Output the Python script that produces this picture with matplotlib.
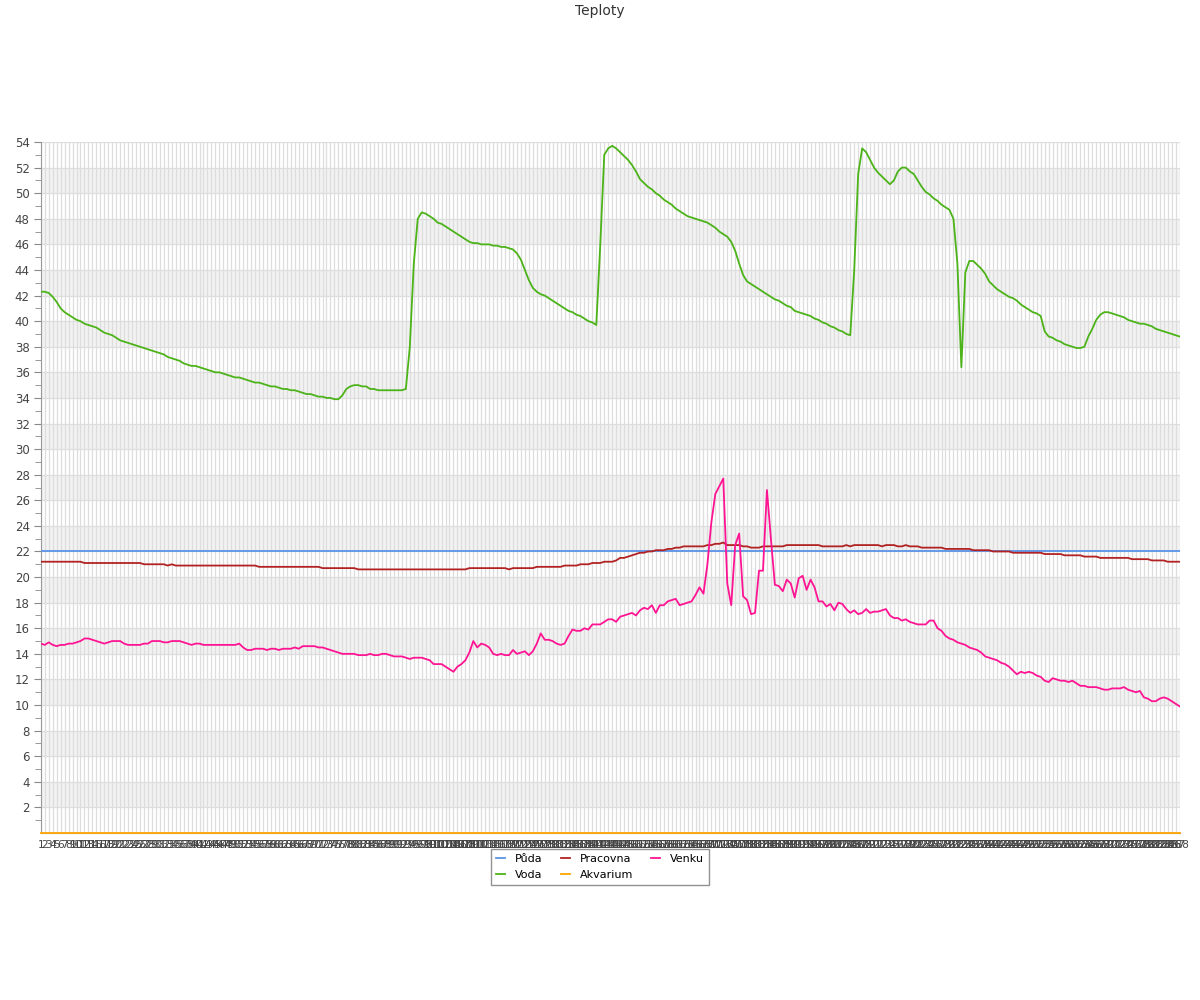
import matplotlib
matplotlib.use("Agg")
import matplotlib.pyplot as plt

# 5-minute samples, labelled 1..288
samples = [str(i) for i in range(1, 289)]

puda = [22.0] * 288
akvarium = [0.0] * 288

voda = [
    42.3, 42.3, 42.2, 41.9, 41.5, 41.0, 40.7, 40.5, 40.3, 40.1, 40.0, 39.8,
    39.7, 39.6, 39.5, 39.3, 39.1, 39.0, 38.9, 38.7, 38.5, 38.4, 38.3, 38.2,
    38.1, 38.0, 37.9, 37.8, 37.7, 37.6, 37.5, 37.4, 37.2, 37.1, 37.0, 36.9,
    36.7, 36.6, 36.5, 36.5, 36.4, 36.3, 36.2, 36.1, 36.0, 36.0, 35.9, 35.8,
    35.7, 35.6, 35.6, 35.5, 35.4, 35.3, 35.2, 35.2, 35.1, 35.0, 34.9, 34.9,
    34.8, 34.7, 34.7, 34.6, 34.6, 34.5, 34.4, 34.3, 34.3, 34.2, 34.1, 34.1,
    34.0, 34.0, 33.9, 33.9, 34.2, 34.7, 34.9, 35.0, 35.0, 34.9, 34.9, 34.7,
    34.7, 34.6, 34.6, 34.6, 34.6, 34.6, 34.6, 34.6, 34.7, 38.0, 44.5, 48.0,
    48.5, 48.4, 48.2, 48.0, 47.7, 47.6, 47.4, 47.2, 47.0, 46.8, 46.6, 46.4,
    46.2, 46.1, 46.1, 46.0, 46.0, 46.0, 45.9, 45.9, 45.8, 45.8, 45.7, 45.6,
    45.3, 44.8, 44.0, 43.2, 42.6, 42.3, 42.1, 42.0, 41.8, 41.6, 41.4, 41.2,
    41.0, 40.8, 40.7, 40.5, 40.4, 40.2, 40.0, 39.9, 39.7, 46.0, 53.0, 53.5,
    53.7, 53.5, 53.2, 52.9, 52.6, 52.2, 51.7, 51.1, 50.8, 50.5, 50.3, 50.0,
    49.8, 49.5, 49.3, 49.1, 48.8, 48.6, 48.4, 48.2, 48.1, 48.0, 47.9, 47.8,
    47.7, 47.5, 47.3, 47.0, 46.8, 46.6, 46.2, 45.5, 44.5, 43.6, 43.1, 42.9,
    42.7, 42.5, 42.3, 42.1, 41.9, 41.7, 41.6, 41.4, 41.2, 41.1, 40.8, 40.7,
    40.6, 40.5, 40.4, 40.2, 40.1, 39.9, 39.8, 39.6, 39.5, 39.3, 39.2, 39.0,
    38.9, 44.0, 51.5, 53.5, 53.2, 52.6, 52.0, 51.6, 51.3, 51.0, 50.7, 51.0,
    51.7, 52.0, 52.0, 51.7, 51.5, 51.0, 50.5, 50.1, 49.9, 49.6, 49.4, 49.1,
    48.9, 48.7, 48.0, 44.5, 36.4, 43.8, 44.7, 44.7, 44.4, 44.1, 43.7, 43.1,
    42.8, 42.5, 42.3, 42.1, 41.9, 41.8, 41.6, 41.3, 41.1, 40.9, 40.7, 40.6,
    40.4, 39.2, 38.8, 38.7, 38.5, 38.4, 38.2, 38.1, 38.0, 37.9, 37.9, 38.0,
    38.8, 39.4, 40.1, 40.5, 40.7, 40.7, 40.6, 40.5, 40.4, 40.3, 40.1, 40.0,
    39.9, 39.8, 39.8, 39.7, 39.6, 39.4, 39.3, 39.2, 39.1, 39.0, 38.9, 38.8,
]

pracovna = [
    21.2, 21.2, 21.2, 21.2, 21.2, 21.2, 21.2, 21.2, 21.2, 21.2, 21.2, 21.1,
    21.1, 21.1, 21.1, 21.1, 21.1, 21.1, 21.1, 21.1, 21.1, 21.1, 21.1, 21.1,
    21.1, 21.1, 21.0, 21.0, 21.0, 21.0, 21.0, 21.0, 20.9, 21.0, 20.9, 20.9,
    20.9, 20.9, 20.9, 20.9, 20.9, 20.9, 20.9, 20.9, 20.9, 20.9, 20.9, 20.9,
    20.9, 20.9, 20.9, 20.9, 20.9, 20.9, 20.9, 20.8, 20.8, 20.8, 20.8, 20.8,
    20.8, 20.8, 20.8, 20.8, 20.8, 20.8, 20.8, 20.8, 20.8, 20.8, 20.8, 20.7,
    20.7, 20.7, 20.7, 20.7, 20.7, 20.7, 20.7, 20.7, 20.6, 20.6, 20.6, 20.6,
    20.6, 20.6, 20.6, 20.6, 20.6, 20.6, 20.6, 20.6, 20.6, 20.6, 20.6, 20.6,
    20.6, 20.6, 20.6, 20.6, 20.6, 20.6, 20.6, 20.6, 20.6, 20.6, 20.6, 20.6,
    20.7, 20.7, 20.7, 20.7, 20.7, 20.7, 20.7, 20.7, 20.7, 20.7, 20.6, 20.7,
    20.7, 20.7, 20.7, 20.7, 20.7, 20.8, 20.8, 20.8, 20.8, 20.8, 20.8, 20.8,
    20.9, 20.9, 20.9, 20.9, 21.0, 21.0, 21.0, 21.1, 21.1, 21.1, 21.2, 21.2,
    21.2, 21.3, 21.5, 21.5, 21.6, 21.7, 21.8, 21.9, 21.9, 22.0, 22.0, 22.1,
    22.1, 22.1, 22.2, 22.2, 22.3, 22.3, 22.4, 22.4, 22.4, 22.4, 22.4, 22.4,
    22.5, 22.5, 22.6, 22.6, 22.7, 22.5, 22.5, 22.5, 22.5, 22.4, 22.4, 22.3,
    22.3, 22.3, 22.4, 22.4, 22.4, 22.4, 22.4, 22.4, 22.5, 22.5, 22.5, 22.5,
    22.5, 22.5, 22.5, 22.5, 22.5, 22.4, 22.4, 22.4, 22.4, 22.4, 22.4, 22.5,
    22.4, 22.5, 22.5, 22.5, 22.5, 22.5, 22.5, 22.5, 22.4, 22.5, 22.5, 22.5,
    22.4, 22.4, 22.5, 22.4, 22.4, 22.4, 22.3, 22.3, 22.3, 22.3, 22.3, 22.3,
    22.2, 22.2, 22.2, 22.2, 22.2, 22.2, 22.2, 22.1, 22.1, 22.1, 22.1, 22.1,
    22.0, 22.0, 22.0, 22.0, 22.0, 21.9, 21.9, 21.9, 21.9, 21.9, 21.9, 21.9,
    21.9, 21.8, 21.8, 21.8, 21.8, 21.8, 21.7, 21.7, 21.7, 21.7, 21.7, 21.6,
    21.6, 21.6, 21.6, 21.5, 21.5, 21.5, 21.5, 21.5, 21.5, 21.5, 21.5, 21.4,
    21.4, 21.4, 21.4, 21.4, 21.3, 21.3, 21.3, 21.3, 21.2, 21.2, 21.2, 21.2,
]

venku = [
    14.8, 14.7, 14.9, 14.7, 14.6, 14.7, 14.7, 14.8, 14.8, 14.9, 15.0, 15.2,
    15.2, 15.1, 15.0, 14.9, 14.8, 14.9, 15.0, 15.0, 15.0, 14.8, 14.7, 14.7,
    14.7, 14.7, 14.8, 14.8, 15.0, 15.0, 15.0, 14.9, 14.9, 15.0, 15.0, 15.0,
    14.9, 14.8, 14.7, 14.8, 14.8, 14.7, 14.7, 14.7, 14.7, 14.7, 14.7, 14.7,
    14.7, 14.7, 14.8, 14.5, 14.3, 14.3, 14.4, 14.4, 14.4, 14.3, 14.4, 14.4,
    14.3, 14.4, 14.4, 14.4, 14.5, 14.4, 14.6, 14.6, 14.6, 14.6, 14.5, 14.5,
    14.4, 14.3, 14.2, 14.1, 14.0, 14.0, 14.0, 14.0, 13.9, 13.9, 13.9, 14.0,
    13.9, 13.9, 14.0, 14.0, 13.9, 13.8, 13.8, 13.8, 13.7, 13.6, 13.7, 13.7,
    13.7, 13.6, 13.5, 13.2, 13.2, 13.2, 13.0, 12.8, 12.6, 13.0, 13.2, 13.5,
    14.1, 15.0, 14.5, 14.8, 14.7, 14.5, 14.0, 13.9, 14.0, 13.9, 13.9, 14.3,
    14.0, 14.1, 14.2, 13.9, 14.2, 14.8, 15.6, 15.1, 15.1, 15.0, 14.8, 14.7,
    14.8, 15.4, 15.9, 15.8, 15.8, 16.0, 15.9, 16.3, 16.3, 16.3, 16.5, 16.7,
    16.7, 16.5, 16.9, 17.0, 17.1, 17.2, 17.0, 17.4, 17.6, 17.5, 17.8, 17.2,
    17.8, 17.8, 18.1, 18.2, 18.3, 17.8, 17.9, 18.0, 18.1, 18.6, 19.2, 18.7,
    21.0, 24.3, 26.5, 27.1, 27.7, 19.5, 17.8, 22.5, 23.4, 18.5, 18.2, 17.1,
    17.2, 20.5, 20.5, 26.8, 23.0, 19.4, 19.3, 18.9, 19.8, 19.5, 18.4, 19.9,
    20.1, 19.0, 19.8, 19.2, 18.1, 18.1, 17.7, 17.9, 17.4, 18.0, 17.9, 17.5,
    17.2, 17.4, 17.1, 17.2, 17.5, 17.2, 17.3, 17.3, 17.4, 17.5, 17.0, 16.8,
    16.8, 16.6, 16.7, 16.5, 16.4, 16.3, 16.3, 16.3, 16.6, 16.6, 16.0, 15.8,
    15.4, 15.2, 15.1, 14.9, 14.8, 14.7, 14.5, 14.4, 14.3, 14.1, 13.8, 13.7,
    13.6, 13.5, 13.3, 13.2, 13.0, 12.7, 12.4, 12.6, 12.5, 12.6, 12.5, 12.3,
    12.2, 11.9, 11.8, 12.1, 12.0, 11.9, 11.9, 11.8, 11.9, 11.7, 11.5, 11.5,
    11.4, 11.4, 11.4, 11.3, 11.2, 11.2, 11.3, 11.3, 11.3, 11.4, 11.2, 11.1,
    11.0, 11.1, 10.6, 10.5, 10.3, 10.3, 10.5, 10.6, 10.5, 10.3, 10.1, 9.9,
]

x = list(range(1, len(samples) + 1))

fig = plt.figure(figsize=(12, 10), dpi=100)
ax = fig.add_axes([0.034, 0.167, 0.949, 0.691])

# alternating bands
for lo in range(2, 54, 4):
    ax.axhspan(lo, lo + 2, color="#f2f2f2", zorder=0, lw=0)

ax.plot(x, puda, color="#5b93e8", lw=1.3, label="Půda", zorder=3)
ax.plot(x, voda, color="#4cb319", lw=1.3, label="Voda", zorder=3)
ax.plot(x, pracovna, color="#b22222", lw=1.3, label="Pracovna", zorder=3)
ax.plot(x, akvarium, color="#ffa500", lw=1.3, label="Akvarium", zorder=4, clip_on=False)
ax.plot(x, venku, color="#ff1493", lw=1.3, label="Venku", zorder=3)

ax.set_xlim(1, len(samples))
ax.set_ylim(0, 54)
ax.set_xticks(x)
ax.set_xticklabels(samples, fontsize=7.5, color="#444")
ax.set_yticks(range(2, 55, 2))
ax.set_yticks(range(1, 54, 2), minor=True)
ax.tick_params(axis="y", which="major", length=5, color="#888", labelsize=8.5, labelcolor="#444", pad=3)
ax.tick_params(axis="y", which="minor", length=4, color="#888")
ax.tick_params(axis="x", length=0, pad=5)

ax.grid(axis="both", which="major", color="#dddddd", lw=0.9, zorder=1)
ax.set_axisbelow(True)
for s in ["top", "right"]:
    ax.spines[s].set_visible(False)
ax.spines["left"].set_color("#999")
ax.spines["bottom"].set_color("#999")

fig.text(0.5, 0.989, "Teploty", ha="center", va="center", fontsize=10, color="#333")

leg = ax.legend(loc="upper center", bbox_to_anchor=(0.5, 0.151), bbox_transform=fig.transFigure,
                ncol=3, fontsize=8, frameon=True, fancybox=False, handlelength=0.8,
                handletextpad=0.9, columnspacing=1.6, labelspacing=0.5, borderpad=0.45,
                borderaxespad=0)
leg.get_frame().set_edgecolor("#777")
leg.get_frame().set_linewidth(1.0)

fig.savefig("out.png", dpi=100)
